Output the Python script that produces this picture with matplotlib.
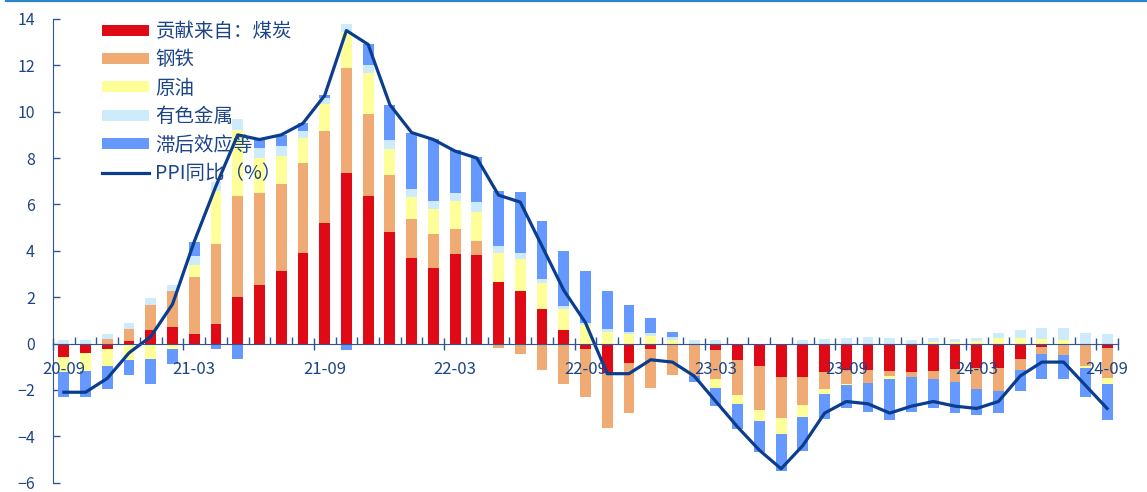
import matplotlib
matplotlib.use("Agg")
import matplotlib.pyplot as plt
import numpy as np
import pandas as pd
from matplotlib.lines import Line2D

plt.rcParams['font.family'] = ['Noto Sans CJK SC', 'DejaVu Sans']

# monthly categories 2020-09 .. 2024-09
months = pd.date_range('2020-09-01', '2024-09-01', freq='MS').strftime('%y-%m').tolist()
tick_labels = ['20-09', '21-03', '21-09', '22-03', '22-09', '23-03', '23-09', '24-03', '24-09']

# contributions (percentage points)
coal = [-0.58, -0.40, -0.23, 0.09, 0.59, 0.72, 0.43, 0.84, 1.99, 2.52,
        3.11, 3.89, 5.19, 7.36, 6.35, 4.81, 3.69, 3.26, 3.86, 3.82,
        2.67, 2.25, 1.48, 0.58, -0.23, -1.25, -0.85, -0.24, 0.0, 0.0,
        -0.26, -0.69, -0.97, -1.43, -1.43, -1.22, -1.15, -1.12, -1.18, -1.21,
        -1.18, -1.08, -1.07, -1.04, -0.68, -0.14, 0.0, 0.0, -0.20]
steel = [0.0, 0.0, 0.20, 0.53, 1.08, 1.56, 2.45, 3.46, 4.37, 3.99,
         3.79, 3.88, 3.98, 4.54, 3.54, 2.44, 1.66, 1.46, 1.07, 0.62,
         -0.19, -0.46, -1.12, -1.76, -2.06, -2.38, -2.16, -1.66, -1.36, -1.40,
         -1.25, -1.52, -1.89, -1.80, -1.20, -0.72, -0.58, -0.58, -0.24, -0.23,
         -0.33, -0.56, -0.88, -1.01, -0.45, -0.29, -0.48, -0.98, -1.27]
oil = [-0.63, -0.78, -0.76, -0.72, -0.65, -0.24, 0.52, 2.28, 2.85, 1.48,
       1.21, 1.10, 1.14, 1.54, 1.76, 1.15, 0.99, 1.08, 1.21, 1.25,
       1.22, 1.40, 1.11, 0.91, 0.81, 0.48, 0.40, 0.33, 0.14, 0.0,
       -0.39, -0.40, -0.49, -0.66, -0.52, -0.24, -0.07, 0.0, -0.09, 0.0,
       0.06, 0.07, 0.12, 0.22, 0.22, 0.19, 0.17, -0.07, -0.26]
nonferrous = [0.14, 0.14, 0.20, 0.25, 0.29, 0.26, 0.37, 0.39, 0.48, 0.43,
              0.40, 0.29, 0.30, 0.33, 0.36, 0.36, 0.32, 0.36, 0.36, 0.40,
              0.33, 0.26, 0.19, 0.14, 0.07, 0.13, 0.10, 0.14, 0.14, 0.17,
              0.14, 0.0, 0.0, 0.0, 0.14, 0.20, 0.26, 0.29, 0.22, 0.17,
              0.20, 0.13, 0.12, 0.22, 0.37, 0.46, 0.52, 0.46, 0.42]
lagged = [-1.10, -1.12, -0.97, -0.62, -1.08, -0.65, 0.60, -0.22, -0.65, 0.40,
          0.50, 0.36, 0.10, -0.29, 0.89, 1.53, 2.42, 2.68, 1.85, 1.94,
          2.35, 2.62, 2.49, 2.38, 2.23, 1.67, 1.15, 0.65, 0.22, -0.25,
          -0.79, -1.08, -1.33, -1.61, -1.47, -1.08, -0.99, -1.24, -1.77, -1.50,
          -1.28, -1.34, -1.15, -0.95, -0.92, -1.08, -1.07, -1.25, -1.56]
ppi = [-2.1, -2.1, -1.5, -0.4, 0.3, 1.7, 4.4, 6.8, 9.0, 8.8,
       9.0, 9.5, 10.7, 13.5, 12.9, 10.3, 9.1, 8.8, 8.3, 8.0,
       6.4, 6.1, 4.2, 2.3, 0.9, -1.3, -1.3, -0.7, -0.8, -1.4,
       -2.5, -3.6, -4.6, -5.4, -4.4, -3.0, -2.5, -2.6, -3.0, -2.7,
       -2.5, -2.7, -2.8, -2.5, -1.4, -0.8, -0.8, -1.8, -2.8]

series = [
    ('贡献来自：煤炭', coal, '#E00A17'),
    ('钢铁', steel, '#F0AB74'),
    ('原油', oil, '#FFFF99'),
    ('有色金属', nonferrous, '#CDEBFB'),
    ('滞后效应等', lagged, '#6699FF'),
]

text_c = '#1C4587'
axis_c = '#2F5597'

fig = plt.figure(figsize=(11.47, 4.92), dpi=100)
ax = fig.add_axes([0.0462, 0.019, 0.9285, 0.9425])

x = np.arange(len(months))
pos_bottom = np.zeros(len(x))
neg_bottom = np.zeros(len(x))
handles = []
for name, vals, color in series:
    v = np.array(vals)
    bottom = np.where(v >= 0, pos_bottom, neg_bottom)
    b = ax.bar(x, v, width=0.5, bottom=bottom, color=color, label=name, zorder=2)
    handles.append(b)
    pos_bottom = pos_bottom + np.where(v >= 0, v, 0)
    neg_bottom = neg_bottom + np.where(v < 0, v, 0)

ln, = ax.plot(x, ppi, color='#0B3D8F', lw=2.3, label='PPI同比（%）', zorder=3)
handles.append(ln)

ax.set_xlim(-0.5, len(x) - 0.5)
ax.set_ylim(-6, 14)
ax.set_yticks(np.arange(-6, 15, 2))

for s in ['top', 'right']:
    ax.spines[s].set_visible(False)
ax.spines['bottom'].set_position(('data', 0))
ax.spines['bottom'].set_color(axis_c)
ax.spines['left'].set_color(axis_c)
ax.spines['bottom'].set_zorder(4)

ax.tick_params(axis='y', direction='in', length=5, width=1, color=axis_c,
               labelcolor=text_c, labelsize=11.5, pad=13)

# boundary ticks: longer crossing ones before each labelled month
lab_idx = [months.index(t) for t in tick_labels]
major_pos = [i - 0.5 for i in lab_idx] + [len(x) - 0.5]
minor_pos = [i + 0.5 for i in range(-1, len(x)) if (i + 0.5) not in major_pos]
ax.set_xticks(major_pos)
ax.set_xticklabels([])
ax.set_xticks(minor_pos, minor=True)
ax.tick_params(axis='x', which='major', direction='inout', length=9, width=1, color=axis_c)
ax.tick_params(axis='x', which='minor', direction='in', length=5, width=1, color=axis_c)

for i, t in zip(lab_idx, tick_labels):
    ax.annotate(t, xy=(i, 0), xytext=(0, -19), textcoords='offset points',
                ha='center', va='center', color=text_c, fontsize=12, zorder=5)

leg = ax.legend(handles=handles, loc='upper left',
                bbox_to_anchor=(102 / 1147, 1 - 21 / 492),
                bbox_transform=fig.transFigure, frameon=False, fontsize=14,
                handlelength=2.4, handleheight=0.5, handletextpad=0.35,
                labelspacing=0.38, borderpad=0, borderaxespad=0)
for t in leg.get_texts():
    t.set_color(text_c)

# header rule at top of the picture
fig.add_artist(Line2D([0.005, 1.0], [0.998, 0.998], color='#2B86C5', lw=1.6))

fig.savefig('out.png', dpi=100)
